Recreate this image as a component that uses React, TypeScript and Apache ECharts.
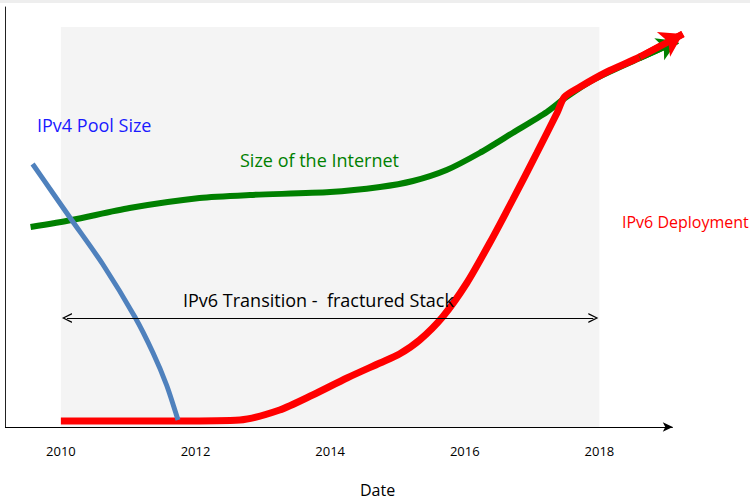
import React, { useEffect, useRef } from "react";
import * as echarts from "echarts";

// ---- data ----
const tickYears = [2010, 2012, 2014, 2016, 2018];
const axisStart = 2009.17;
const axisEnd = 2019.09;

const ipv4Years = [2009.58, 2009.88, 2010.16, 2010.62, 2011.1, 2011.37, 2011.57, 2011.74];
const ipv4Values = [65.75, 58.5, 51.75, 40.75, 27.5, 18.5, 10.5, 1.75];

const internetYears = [2009.55, 2010.16, 2011.02, 2012.06, 2012.81, 2014.0, 2014.74, 2015.23, 2015.73, 2016.22, 2016.71, 2017.22, 2017.51, 2017.9, 2018.6, 2019.16];
const internetValues = [50, 51.75, 54.75, 57.25, 58, 58.75, 60, 61.5, 64.25, 68.5, 73.5, 78.75, 82.5, 86.75, 92.25, 96.5];

const ipv6Years = [2010.0, 2011.74, 2012.66, 2013.25, 2013.74, 2014.25, 2014.74, 2015.03, 2015.33, 2015.67, 2016.03, 2016.37, 2016.71, 2017.07, 2017.37, 2017.48, 2017.71, 2018.11, 2018.6, 2019.24];
const ipv6Values = [1.5, 1.5, 1.75, 4.25, 8, 12.25, 16, 18.25, 21.75, 27.5, 36, 46, 56.75, 68.5, 78.5, 82.5, 85, 88.75, 92.5, 98.25];

const shadeRange = [2010, 2018];
const shadeTop = 100;
const transitionRange = [2010.09, 2017.91];
const transitionLevel = 27.25;

const FONT = "'Open Sans', 'DejaVu Sans', sans-serif";

function pairs(xs: number[], ys: number[]) {
  return xs.map((x, i) => [x, ys[i]]);
}

function endArrow(xs: number[], ys: number[]) {
  const n = xs.length;
  return [[{ coord: [xs[n - 2], ys[n - 2]] }, { coord: [xs[n - 1], ys[n - 1]] }]];
}

export default function App() {
  const ref = useRef<HTMLDivElement>(null);

  useEffect(() => {
    document.body.style.margin = "0";
    if (!ref.current) return;
    const chart = echarts.init(ref.current, undefined, { renderer: "svg" });

    const chevron = "path://M0,10 L5,0 L10,10 L8.6,10 L5,2.6 L1.4,10 Z";

    const textZ = 100;

    chart.setOption({
      animation: false,
      backgroundColor: "#ffffff",
      grid: { left: 5, right: 55, top: 7, bottom: 74, containLabel: false, outerBoundsMode: "none" },
      xAxis: {
        type: "value",
        min: axisStart,
        max: 2019.42,
        axisLine: { show: false },
        axisTick: { show: false },
        splitLine: { show: false },
        axisLabel: {
          customValues: tickYears,
          formatter: (v: number) => String(Math.round(v)),
          margin: 17,
          fontSize: 13,
          color: "#000",
          fontFamily: FONT,
        },
      },
      yAxis: {
        type: "value",
        min: 0,
        max: 105,
        axisLine: { show: true, lineStyle: { color: "#222", width: 1 } },
        axisTick: { show: false },
        axisLabel: { show: false },
        splitLine: { show: false },
      },
      graphic: [
        { type: "rect", shape: { x: 0, y: 0, width: 750, height: 3 }, style: { fill: "#eeeeee" }, silent: true },
        { type: "text", z: textZ, x: 37, y: 125, style: { text: "IPv4 Pool Size", fill: "#1a1aff", font: `18px ${FONT}`, verticalAlign: "middle" } },
        { type: "text", z: textZ, x: 240, y: 160, style: { text: "Size of the Internet", fill: "#008000", font: `18px ${FONT}`, verticalAlign: "middle" } },
        { type: "text", z: textZ, x: 622, y: 222, style: { text: "IPv6 Deployment", fill: "#ff0000", font: `16px ${FONT}`, verticalAlign: "middle" } },
        { type: "text", z: textZ, x: 183, y: 300, style: { text: "IPv6 Transition -  fractured Stack", fill: "#000", font: `18px ${FONT}`, verticalAlign: "middle" } },
        { type: "text", z: textZ, x: 360, y: 490, style: { text: "Date", fill: "#000", font: `16px ${FONT}`, verticalAlign: "middle" } },
      ],
      series: [
        {
          type: "line",
          name: "shade",
          data: [],
          silent: true,
          markArea: {
            silent: true,
            itemStyle: { color: "#f4f4f4" },
            data: [[{ xAxis: shadeRange[0], yAxis: 0 }, { xAxis: shadeRange[1], yAxis: shadeTop }]],
          },
        },
        {
          type: "line",
          name: "x axis",
          data: [],
          silent: true,
          markLine: {
            silent: true,
            symbol: ["none", "arrow"],
            symbolSize: [7, 10],
            label: { show: false },
            itemStyle: { color: "#000" },
            lineStyle: { color: "#000", width: 1, type: "solid" },
            data: [[{ coord: [axisStart, 0] }, { coord: [axisEnd, 0] }]],
          },
        },
        {
          type: "line",
          name: "transition",
          data: [],
          silent: true,
          markLine: {
            silent: true,
            symbol: [chevron, chevron],
            symbolSize: [10, 10],
            label: { show: false },
            itemStyle: { color: "#000" },
            lineStyle: { color: "#000", width: 1, type: "solid" },
            data: [[{ coord: [transitionRange[0], transitionLevel] }, { coord: [transitionRange[1], transitionLevel] }]],
          },
        },
        {
          type: "line",
          name: "Size of the Internet",
          data: pairs(internetYears, internetValues),
          smooth: 0.25,
          showSymbol: false,
          symbol: "none",
          clip: false,
          lineStyle: { color: "#008000", width: 6 },
          markLine: {
            silent: true,
            symbol: ["none", "arrow"],
            symbolSize: [18, 20],
            label: { show: false },
            itemStyle: { color: "#008000" },
            lineStyle: { color: "#008000", width: 6, type: "solid" },
            data: endArrow(internetYears, internetValues),
          },
        },
        {
          type: "line",
          name: "IPv6 Deployment",
          data: pairs(ipv6Years, ipv6Values),
          smooth: 0.25,
          showSymbol: false,
          symbol: "none",
          clip: false,
          lineStyle: { color: "#ff0000", width: 7 },
          markLine: {
            silent: true,
            symbol: ["none", "arrow"],
            symbolSize: [21, 22],
            label: { show: false },
            itemStyle: { color: "#ff0000" },
            lineStyle: { color: "#ff0000", width: 7, type: "solid" },
            data: endArrow(ipv6Years, ipv6Values),
          },
        },
        {
          type: "line",
          name: "IPv4 Pool Size",
          data: pairs(ipv4Years, ipv4Values),
          smooth: 0.25,
          showSymbol: false,
          symbol: "none",
          clip: false,
          lineStyle: { color: "#4f81bd", width: 5 },
        },
      ],
    });

    return () => chart.dispose();
  }, []);

  return <div ref={ref} style={{ width: 750, height: 501 }} />;
}
